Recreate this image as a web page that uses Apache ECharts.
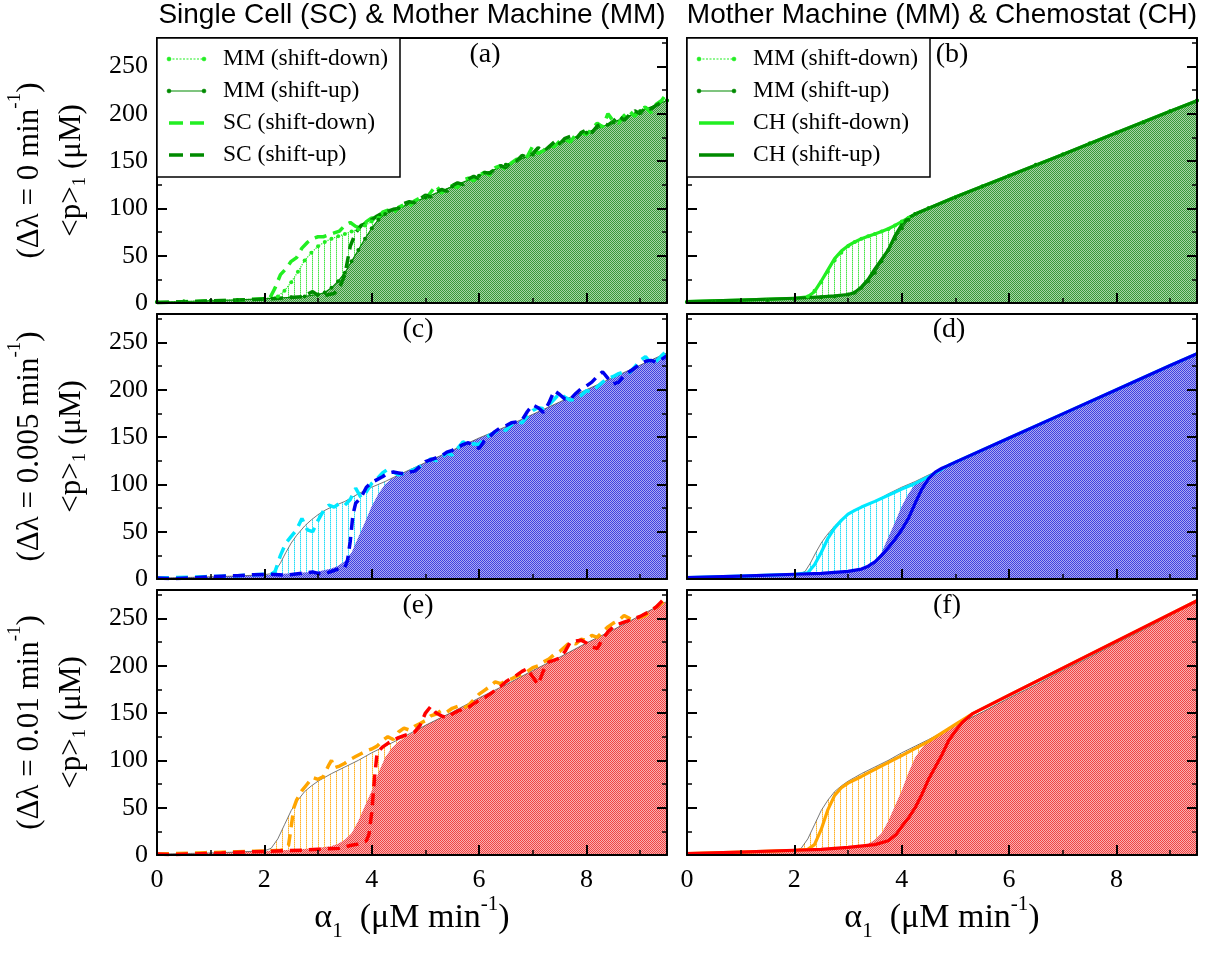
<!DOCTYPE html>
<html><head><meta charset="utf-8">
<script src="https://cdn.jsdelivr.net/npm/echarts@6/dist/echarts.min.js"></script>
<style>html,body{margin:0;padding:0;background:#fff}#c{width:1210px;height:953px}</style>
</head><body><div id="c"></div>
<script>
// ---------------- DATA ----------------
const xTicks = [0, 2, 4, 6, 8];
const yTicks = [0, 50, 100, 150, 200, 250];
const rowLabels = ['0', '0.005', '0.01'];
const panelLetters = ['(a)', '(b)', '(c)', '(d)', '(e)', '(f)'];
const columnTitles = ['Single Cell (SC) & Mother Machine (MM)', 'Mother Machine (MM) & Chemostat (CH)'];
const legendLeft = ['MM (shift-down)', 'MM (shift-up)', 'SC (shift-down)', 'SC (shift-up)'];
const legendRight = ['MM (shift-down)', 'MM (shift-up)', 'CH (shift-down)', 'CH (shift-up)'];

// Row 1 (Δλ = 0)
const mmDown1 = [[0,1],[0.5,1.6],[1,2.4],[1.5,3.3],[2,4.6],[2.25,7],[2.375,13],[2.5,22],[2.625,33],[2.75,45],[2.875,53],[3,60],[3.125,64.5],[3.25,68],[3.375,70.5],[3.5,73],[3.625,75.5],[3.75,78],[3.875,82],[4,86],[4.125,90],[4.25,94],[4.5,100],[5,111.5],[5.5,123],[6,134.5],[6.5,146],[7,157],[7.5,168.5],[8,180],[8.5,191],[9,202.5],[9.5,214]];
const mmUp1 = [[0,1],[0.5,1.6],[1,2.4],[1.5,3.3],[2,4.5],[2.5,6],[2.75,7],[3,9],[3.125,11],[3.25,16],[3.375,23],[3.5,32],[3.625,44],[3.75,56],[3.875,68],[4,79],[4.125,88],[4.25,94],[4.5,100],[5,111.5],[5.5,123],[6,134.5],[6.5,146],[7,157],[7.5,168.5],[8,180],[8.5,191],[9,202.5],[9.5,214]];
const scDown1 = [[0,0.5],[0.3,1],[0.6,1.5],[0.9,2],[1.2,2.5],[1.5,3],[1.8,4],[2.0,4.5],[2.1,5],[2.2,16],[2.3,30],[2.4,36],[2.5,44],[2.6,48],[2.7,58],[2.8,64],[2.9,68],[3.0,70],[3.1,70],[3.2,72],[3.3,74],[3.4,76],[3.5,82],[3.6,85],[3.7,81],[3.8,79],[3.9,86],[4.0,90],[4.1,88],[4.2,96],[4.3,98],[4.4,95],[4.5,101],[4.6,104],[4.7,102],[4.8,108],[4.9,111],[5.0,110],[5.1,117],[5.2,124],[5.3,116],[5.4,121],[5.5,124],[5.6,122],[5.7,130],[5.8,132],[5.9,129],[6.0,135],[6.1,138],[6.2,135],[6.3,143],[6.4,145],[6.5,141],[6.6,148],[6.7,152],[6.8,151],[6.9,155],[7.0,166],[7.1,158],[7.2,161],[7.3,167],[7.4,165],[7.5,171],[7.6,173],[7.7,170],[7.8,178],[7.9,180],[8.0,178],[8.1,184],[8.2,190],[8.3,186],[8.4,200],[8.5,192],[8.6,190],[8.7,198],[8.8,203],[8.9,197],[9.0,205],[9.1,207],[9.2,201],[9.3,210],[9.4,214],[9.5,222]];
const scUp1 = [[0,0.5],[0.3,1],[0.6,1.4],[0.9,2],[1.2,2.6],[1.5,3.2],[1.8,3.8],[2.1,4.5],[2.4,5.5],[2.7,6.5],[2.9,12],[3.0,8],[3.1,7],[3.2,9],[3.3,10],[3.4,16],[3.5,30],[3.55,45],[3.6,60],[3.7,74],[3.8,82],[3.9,84],[4.0,88],[4.1,92],[4.2,95],[4.3,97],[4.4,99],[4.5,100],[4.6,105],[4.7,107],[4.8,106],[4.9,110],[5.0,114],[5.1,112],[5.2,117],[5.3,120],[5.4,118],[5.5,124],[5.6,127],[5.7,125],[5.8,131],[5.9,134],[6.0,131],[6.1,138],[6.2,137],[6.3,142],[6.4,145],[6.5,143],[6.6,149],[6.7,150],[6.8,156],[6.9,154],[7.0,158],[7.1,164],[7.2,160],[7.3,165],[7.4,170],[7.5,168],[7.6,174],[7.7,176],[7.8,173],[7.9,180],[8.0,183],[8.1,180],[8.2,187],[8.3,190],[8.4,188],[8.5,192],[8.6,198],[8.7,193],[8.8,199],[8.9,203],[9.0,200],[9.1,207],[9.2,205],[9.3,209],[9.4,212],[9.5,214]];
const chDown1 = [[0,1.5],[1,3],[2,5],[2.25,6.5],[2.375,12],[2.5,23],[2.625,35],[2.75,47],[2.875,55],[3,60.5],[3.125,64.5],[3.25,68],[3.375,70.5],[3.5,73],[3.625,75.5],[3.75,78.5],[3.875,82],[4,86],[4.125,90],[4.25,94],[5,112],[6,134.5],[7,157],[8,180],[9,202.5],[9.5,213.8]];
const chUp1 = [[0,1.5],[1,3],[2,5],[2.5,6.5],[2.75,7.5],[3,9],[3.125,11],[3.25,17],[3.375,25],[3.5,36],[3.625,46],[3.75,56],[3.875,71],[4,83],[4.125,90],[4.25,94],[5,112],[6,134.5],[7,157],[8,180],[9,202.5],[9.5,213.8]];

// Row 2 (Δλ = 0.005)
const mmDown2 = [[0,1],[0.5,1.5],[1,2.3],[1.5,3.2],[2,4.5],[2.1,5.5],[2.2,8],[2.3,17],[2.4,28],[2.5,38],[2.6,46],[2.75,56],[2.875,62.5],[3,68],[3.125,72.5],[3.25,76],[3.5,82],[3.75,90],[4,97],[4.25,103],[4.5,110],[5,123],[5.5,136],[6,149],[6.5,161],[7,174],[7.5,187],[8,200],[8.5,213],[9,226],[9.5,239]];
const mmUp2 = [[0,1],[1,2.3],[2,4.3],[2.5,6],[3,8],[3.25,11],[3.375,14],[3.5,19],[3.625,28],[3.75,44],[3.875,60],[4,77],[4.125,90],[4.25,100],[4.375,106],[4.5,110],[5,123],[5.5,136],[6,149],[6.5,161],[7,174],[7.5,187],[8,200],[8.5,213],[9,226],[9.5,239]];
const scDown2 = [[0,1],[0.3,1.5],[0.6,2],[0.9,2.5],[1.2,3],[1.5,3.5],[1.8,4.5],[2.0,5],[2.1,4],[2.2,8],[2.3,25],[2.4,38],[2.5,45],[2.6,52],[2.7,64],[2.8,52],[2.9,50],[3.0,62],[3.1,72],[3.2,78],[3.3,76],[3.4,80],[3.5,78],[3.6,84],[3.7,96],[3.8,86],[3.9,92],[4.0,101],[4.1,106],[4.2,112],[4.3,116],[4.4,113],[4.5,110],[4.6,112],[4.7,114],[4.8,116],[4.9,119],[5.0,122],[5.1,127],[5.2,125],[5.3,128],[5.4,133],[5.5,131],[5.6,138],[5.7,145],[5.8,141],[5.9,143],[6.0,142],[6.1,149],[6.2,152],[6.3,155],[6.4,159],[6.5,157],[6.6,163],[6.7,166],[6.8,165],[6.9,172],[7.0,178],[7.1,181],[7.2,180],[7.3,184],[7.4,190],[7.5,196],[7.6,192],[7.7,189],[7.8,190],[7.9,194],[8.0,199],[8.1,198],[8.2,203],[8.3,208],[8.4,212],[8.5,214],[8.6,217],[8.7,219],[8.8,218],[8.9,224],[9.0,231],[9.1,235],[9.2,228],[9.3,230],[9.4,236],[9.5,241]];
const scUp2 = [[0,1],[0.3,0.5],[0.6,1],[0.9,2],[1.2,3],[1.5,3.5],[1.8,4.5],[2.1,5],[2.4,4],[2.7,6],[2.9,7.5],[3.0,6],[3.1,5],[3.2,7],[3.3,9],[3.4,11],[3.5,12],[3.55,20],[3.6,40],[3.65,68],[3.7,80],[3.8,86],[3.9,97],[4.0,102],[4.1,105],[4.2,108],[4.3,112],[4.4,113],[4.5,112],[4.6,111],[4.7,113],[4.8,114],[4.9,119],[5.0,124],[5.1,126],[5.2,128],[5.3,130],[5.4,134],[5.5,136],[5.6,139],[5.7,142],[5.8,144],[5.9,141],[6.0,138],[6.1,146],[6.2,151],[6.3,156],[6.4,160],[6.5,162],[6.6,165],[6.7,166],[6.8,168],[6.9,177],[7.0,184],[7.1,181],[7.2,176],[7.3,186],[7.4,199],[7.5,195],[7.6,190],[7.7,190],[7.8,196],[7.9,201],[8.0,204],[8.1,208],[8.2,214],[8.3,219],[8.4,212],[8.5,206],[8.6,208],[8.7,215],[8.8,219],[8.9,223],[9.0,227],[9.1,230],[9.2,231],[9.3,229],[9.4,232],[9.5,236]];
const chDown2 = [[0,1.5],[1,3],[2,5],[2.25,6.5],[2.375,15],[2.5,28],[2.625,43],[2.75,54],[2.875,62],[3,68.5],[3.125,72.5],[3.25,76],[3.5,82],[3.75,88.5],[4,95],[4.25,101],[4.5,108],[4.75,116],[4.85,119.5],[5,123.5],[6,149],[7,174.5],[8,200],[9,225.5],[9.5,238]];
const chUp2 = [[0,1.5],[1,3],[2,5],[2.5,6],[3,8],[3.25,10.5],[3.375,13.5],[3.5,18],[3.625,25],[3.75,33],[3.875,42],[4,52],[4.125,64],[4.25,80],[4.375,95],[4.5,106],[4.625,113],[4.75,117],[4.85,119.5],[5,123.5],[6,149],[7,174.5],[8,200],[9,225.5],[9.5,238]];

// Row 3 (Δλ = 0.01)
const mmDown3 = [[0,1],[0.5,1.5],[1,2.2],[1.5,3.1],[2,4.5],[2.125,7],[2.25,17],[2.375,32],[2.5,47],[2.625,58],[2.75,67],[2.875,73],[3,78],[3.125,82],[3.25,86],[3.5,93],[3.75,100],[4,108],[4.25,115],[4.5,122],[5,137],[5.5,151],[6,166],[6.5,180],[7,195],[7.5,209],[8,224],[8.5,238],[9,253],[9.5,268]];
const mmUp3 = [[0,1],[1,2.2],[2,4.3],[2.5,5.5],[3,7.5],[3.25,9.5],[3.375,12],[3.5,16],[3.625,23],[3.75,36],[3.875,52],[4,68],[4.125,87],[4.25,103],[4.375,113],[4.5,120],[4.75,129],[5,137],[5.5,151],[6,166],[6.5,180],[7,195],[7.5,209],[8,224],[8.5,238],[9,253],[9.5,268]];
const scDown3 = [[0,1],[0.3,1.5],[0.6,2],[0.9,2.5],[1.2,3],[1.5,3.5],[1.8,4],[2.1,4.5],[2.3,5],[2.4,6],[2.45,10],[2.5,30],[2.55,50],[2.6,58],[2.7,68],[2.8,75],[2.9,82],[3.0,80],[3.1,83],[3.2,95],[3.25,100],[3.3,92],[3.4,94],[3.5,97],[3.6,101],[3.7,104],[3.8,107],[3.9,110],[4.0,112],[4.1,115],[4.2,121],[4.3,125],[4.4,122],[4.5,130],[4.6,134],[4.7,132],[4.8,136],[4.9,139],[5.0,142],[5.1,147],[5.2,149],[5.3,153],[5.4,151],[5.5,155],[5.6,157],[5.7,155],[5.8,158],[5.9,164],[6.0,170],[6.1,174],[6.2,178],[6.3,183],[6.4,181],[6.5,184],[6.6,186],[6.7,189],[6.8,191],[6.9,194],[7.0,198],[7.1,200],[7.2,204],[7.3,207],[7.4,212],[7.5,215],[7.6,220],[7.7,225],[7.8,223],[7.9,228],[8.0,227],[8.1,232],[8.2,230],[8.3,236],[8.4,241],[8.5,245],[8.6,248],[8.7,253],[8.8,250],[8.9,249],[9.0,251],[9.1,253],[9.2,258],[9.3,262],[9.4,266],[9.5,272]];
const scUp3 = [[0,1],[0.3,0.5],[0.6,1],[0.9,1.5],[1.2,2],[1.5,3],[1.8,3.5],[2.1,4],[2.4,4.5],[2.7,5],[3.0,6],[3.2,6.5],[3.4,7],[3.6,10],[3.7,11],[3.8,12],[3.9,15],[3.95,22],[4.0,45],[4.05,80],[4.1,108],[4.2,114],[4.3,118],[4.4,121],[4.5,124],[4.6,126],[4.7,128],[4.8,130],[4.9,137],[5.0,150],[5.1,157],[5.2,150],[5.3,147],[5.4,145],[5.5,149],[5.6,152],[5.7,154],[5.8,156],[5.9,160],[6.0,163],[6.1,166],[6.2,170],[6.3,174],[6.4,178],[6.5,183],[6.6,187],[6.7,190],[6.8,194],[6.9,197],[7.0,188],[7.1,180],[7.2,195],[7.3,204],[7.4,206],[7.5,208],[7.6,215],[7.7,225],[7.8,226],[7.9,227],[8.0,224],[8.1,220],[8.2,218],[8.3,228],[8.4,236],[8.5,241],[8.6,244],[8.7,246],[8.8,248],[8.9,250],[9.0,252],[9.1,255],[9.2,258],[9.3,262],[9.4,268],[9.5,273]];
const chDown3 = [[0,1.5],[1,3],[2,5],[2.25,6],[2.375,11],[2.5,27],[2.625,48],[2.75,63],[2.875,71],[3,76],[3.125,79.5],[3.25,83],[3.5,90.5],[4,105],[4.5,120],[5,138],[5.33,149.7],[6,169],[7,197.5],[8,226],[9,254.5],[9.5,268.7]];
const chUp3 = [[0,1.5],[1,3],[2,5],[2.5,6],[3,8],[3.5,11],[3.75,15],[3.9,22],[4,30],[4.125,39],[4.25,50],[4.375,64],[4.5,80],[4.625,93],[4.75,106],[4.875,121],[5,131],[5.125,140],[5.25,146],[5.33,149.7],[6,169],[7,197.5],[8,226],[9,254.5],[9.5,268.7]];

// ---------------- STYLE ----------------
const SERIF = '"Liberation Serif", "Times New Roman", serif';
const SANS = '"Liberation Sans", Arial, sans-serif';
const rows = [
  { mmDown: mmDown1, mmUp: mmUp1, scDown: scDown1, scUp: scUp1, chDown: chDown1, chUp: chUp1,
    light: '#22ee22', dark: '#008a00', dense: ['#3a983a', '#a6d6a6'], hatch: 'rgba(40,225,40,0.85)' },
  { mmDown: mmDown2, mmUp: mmUp2, scDown: scDown2, scUp: scUp2, chDown: chDown2, chUp: chUp2,
    light: '#00e8ff', dark: '#0000ee', dense: ['#4040e0', '#aaaaf2'], hatch: 'rgba(0,215,245,0.85)' },
  { mmDown: mmDown3, mmUp: mmUp3, scDown: scDown3, scUp: scUp3, chDown: chDown3, chUp: chUp3,
    light: '#ffa500', dark: '#ff0000', dense: ['#f04444', '#f9b0b0'], hatch: 'rgba(255,165,0,0.85)' }
];

function densePattern(a, b) {
  const cv = document.createElement('canvas'); cv.width = 2; cv.height = 2;
  const g = cv.getContext('2d');
  g.fillStyle = b; g.fillRect(0, 0, 2, 2);
  g.fillStyle = a; g.fillRect(0, 0, 1, 1); g.fillRect(1, 1, 1, 1);
  return cv;
}
function hatchPattern(col) {
  const cv = document.createElement('canvas'); cv.width = 6; cv.height = 2;
  const g = cv.getContext('2d');
  g.fillStyle = col; g.fillRect(0, 0, 1, 1);
  g.globalAlpha = 0.55; g.fillRect(0, 1, 1, 1);
  return cv;
}

// y-axis title rich styles (two lines: t1 outer, t2 inner)
const S_Y = 31, S_YS = 19;
const richY = {
  t1: { fontFamily: SERIF, fontSize: S_Y, color: '#000', lineHeight: 48 },
  t2: { fontFamily: SERIF, fontSize: S_Y, color: '#000', lineHeight: 36 },
  sup: { fontFamily: SERIF, fontSize: S_YS, color: '#000', verticalAlign: 'top', lineHeight: S_YS + 2 },
  sub: { fontFamily: SERIF, fontSize: S_YS, color: '#000', verticalAlign: 'bottom', lineHeight: S_YS + 2 }
};
const S_X = 34, S_XS = 21;
const richX = {
  t: { fontFamily: SERIF, fontSize: S_X, color: '#000', lineHeight: 48 },
  sup: { fontFamily: SERIF, fontSize: S_XS, color: '#000', verticalAlign: 'top', lineHeight: S_XS + 2 },
  sub: { fontFamily: SERIF, fontSize: S_XS, color: '#000', verticalAlign: 'bottom', lineHeight: S_XS + 2 }
};

const gridLefts = [157, 687];
const gridTops = [38, 314, 590];
const grids = [], xAxes = [], yAxes = [], series = [];

for (let i = 0; i < 6; i++) {
  const r = Math.floor(i / 2), c = i % 2;
  const row = rows[r];
  grids.push({ left: gridLefts[c], top: gridTops[r], width: 510, height: 265, show: false, containLabel: false, outerBoundsMode: 'none' });

  const xMaj = xAxes.length;
  xAxes.push({
    gridIndex: i, type: 'value', min: 0, max: 9.5, interval: 2, position: 'bottom', z: 5,
    axisLine: { show: true, onZero: false, lineStyle: { color: '#000', width: 2 } },
    axisTick: { show: true, inside: true, length: 10, lineStyle: { color: '#000', width: 2 } },
    axisLabel: { show: r === 2, showMaxLabel: false, fontFamily: SERIF, fontSize: 26, color: '#000', margin: 12,
      formatter: v => (xTicks.indexOf(v) >= 0 ? String(v) : '') },
    splitLine: { show: false },
    name: r === 2 ? '{t|α}{sub|1}{t|  (μM min}{sup|-1}{t|)}' : '',
    nameLocation: 'middle', nameGap: 38,
    nameTextStyle: { rich: richX }
  });
  xAxes.push({
    gridIndex: i, type: 'value', min: 0, max: 9.5, interval: 1, position: 'bottom', z: 5,
    axisLine: { show: false, onZero: false }, axisLabel: { show: false }, splitLine: { show: false },
    axisTick: { show: true, inside: true, length: 5, lineStyle: { color: '#000', width: 1.5 } }
  });
  xAxes.push({
    gridIndex: i, type: 'value', min: 0, max: 9.5, position: 'top', z: 5,
    axisLine: { show: true, onZero: false, lineStyle: { color: '#000', width: 2 } },
    axisTick: { show: false }, axisLabel: { show: false }, splitLine: { show: false }
  });

  const yMaj = yAxes.length;
  yAxes.push({
    gridIndex: i, type: 'value', min: 0, max: 280, interval: 50, position: 'left', z: 5,
    axisLine: { show: true, onZero: false, lineStyle: { color: '#000', width: 2 } },
    axisTick: { show: true, inside: true, length: 10, lineStyle: { color: '#000', width: 2 } },
    axisLabel: { show: c === 0, showMaxLabel: false, fontFamily: SERIF, fontSize: 26, color: '#000', margin: 9,
      formatter: v => (yTicks.indexOf(v) >= 0 ? String(v) : '') },
    splitLine: { show: false },
    name: c === 0 ? '{t1|(Δλ = ' + rowLabels[r] + ' min}{sup|-1}{t1|)}\n{t2|<p>}{sub|1}{t2| (μM)}' : '',
    nameLocation: 'middle', nameRotate: 90, nameGap: 67,
    nameTextStyle: { rich: richY, align: 'center' }
  });
  yAxes.push({
    gridIndex: i, type: 'value', min: 0, max: 280, interval: 25, position: 'left', z: 5,
    axisLine: { show: false, onZero: false }, axisLabel: { show: false }, splitLine: { show: false },
    axisTick: { show: true, inside: true, length: 5, lineStyle: { color: '#000', width: 1.5 } }
  });
  yAxes.push({
    gridIndex: i, type: 'value', min: 0, max: 280, interval: 50, position: 'right', z: 5,
    axisLine: { show: true, onZero: false, lineStyle: { color: '#000', width: 2 } },
    axisTick: { show: true, inside: true, length: 10, lineStyle: { color: '#000', width: 2 } },
    axisLabel: { show: false }, splitLine: { show: false }
  });
  yAxes.push({
    gridIndex: i, type: 'value', min: 0, max: 280, interval: 25, position: 'right', z: 5,
    axisLine: { show: false, onZero: false }, axisLabel: { show: false }, splitLine: { show: false },
    axisTick: { show: true, inside: true, length: 5, lineStyle: { color: '#000', width: 1.5 } }
  });

  const base = { type: 'line', xAxisIndex: xMaj, yAxisIndex: yMaj, silent: true, animation: false, smooth: false };
  series.push(Object.assign({}, base, {
    name: 'hatch-' + i, data: row.mmDown, showSymbol: false, symbol: 'none',
    lineStyle: { width: 0, opacity: 0 }, areaStyle: { color: { image: hatchPattern(row.hatch), repeat: 'repeat' }, opacity: 1 }
  }));
  series.push(Object.assign({}, base, {
    name: 'dense-' + i, data: row.mmUp, showSymbol: false, symbol: 'none',
    lineStyle: { width: 0, opacity: 0 }, areaStyle: { color: { image: densePattern(row.dense[0], row.dense[1]), repeat: 'repeat' }, opacity: 1 }
  }));
  if (r === 0) {
    series.push(Object.assign({}, base, {
      name: 'MM (shift-down) ' + i, data: row.mmDown,
      symbol: 'circle', symbolSize: 4, showSymbol: true,
      itemStyle: { color: row.light }, lineStyle: { color: row.light, width: 1.2, type: 'dotted' }
    }));
    series.push(Object.assign({}, base, {
      name: 'MM (shift-up) ' + i, data: row.mmUp,
      symbol: 'circle', symbolSize: 4, showSymbol: true,
      itemStyle: { color: row.dark }, lineStyle: { color: row.dark, width: 1.2 }
    }));
  } else {
    series.push(Object.assign({}, base, {
      name: 'mm-down-' + i, data: row.mmDown, symbol: 'none', showSymbol: false,
      lineStyle: { color: '#555', width: 0.8 }
    }));
  }
  if (c === 0) {
    series.push(Object.assign({}, base, {
      name: 'sc-down-' + i, data: row.scDown, symbol: 'none', showSymbol: false,
      lineStyle: { color: row.light, width: 3.5, type: [12, 7] }
    }));
    series.push(Object.assign({}, base, {
      name: 'sc-up-' + i, data: row.scUp, symbol: 'none', showSymbol: false,
      lineStyle: { color: row.dark, width: 3.5, type: [12, 7] }
    }));
  } else {
    series.push(Object.assign({}, base, {
      name: 'ch-down-' + i, data: row.chDown, symbol: 'none', showSymbol: false,
      lineStyle: { color: row.light, width: 3.2, join: 'round' }
    }));
    series.push(Object.assign({}, base, {
      name: 'ch-up-' + i, data: row.chUp, symbol: 'none', showSymbol: false,
      lineStyle: { color: row.dark, width: 3.2, join: 'round' }
    }));
  }
}

// ---------- graphic: headers, panel letters, legends ----------
const graphics = [];
columnTitles.forEach((t, k) => {
  graphics.push({ type: 'text', x: [412, 942][k], y: 15, z: 30, silent: true,
    style: { text: t, fontFamily: SANS, fontSize: 28, fill: '#000', align: 'center', verticalAlign: 'middle', textAlign: 'center', textVerticalAlign: 'middle' } });
});
const letterPos = [[485, 55], [952, 55], [418, 330], [949, 330], [418, 606], [947, 606]];
panelLetters.forEach((t, k) => {
  graphics.push({ type: 'text', x: letterPos[k][0], y: letterPos[k][1], z: 30, silent: true,
    style: { text: t, fontFamily: SERIF, fontSize: 28, fill: '#000', align: 'center', verticalAlign: 'middle', textAlign: 'center', textVerticalAlign: 'middle' } });
});

function addLegend(x0, names, kinds) {
  const c = rows[0];
  graphics.push({ type: 'rect', z: 40, silent: true, shape: { x: x0, y: 38, width: 243, height: 139 },
    style: { fill: '#fff', stroke: '#000', lineWidth: 1.5 } });
  names.forEach((n, k) => {
    const cy = 59 + k * 32;
    const x1 = x0 + 12, x2 = x0 + 47;
    const kind = kinds[k];
    const col = (k % 2 === 0) ? c.light : c.dark;
    let style;
    if (kind === 'mm') style = { stroke: col, lineWidth: 1.2, lineDash: k === 0 ? [2, 1.5] : null };
    else if (kind === 'sc') style = { stroke: col, lineWidth: 3.5, lineDash: [14, 7] };
    else style = { stroke: col, lineWidth: 3.5 };
    graphics.push({ type: 'line', z: 41, silent: true, shape: { x1: x1, y1: cy, x2: x2, y2: cy }, style: style });
    if (kind === 'mm') {
      [x1, x2].forEach(px => graphics.push({ type: 'circle', z: 42, silent: true, shape: { cx: px, cy: cy, r: 2 },
        style: { fill: col, stroke: col, lineWidth: 0.5 } }));
    }
    graphics.push({ type: 'text', z: 42, silent: true, x: x0 + 66, y: cy,
      style: { text: n, fontFamily: SERIF, fontSize: 23.5, fill: '#000', align: 'left', verticalAlign: 'middle', textAlign: 'left', textVerticalAlign: 'middle' } });
  });
}
addLegend(157, legendLeft, ['mm', 'mm', 'sc', 'sc']);
addLegend(687, legendRight, ['mm', 'mm', 'ch', 'ch']);

const option = {
  animation: false,
  backgroundColor: '#fff',
  grid: grids,
  xAxis: xAxes,
  yAxis: yAxes,
  graphic: graphics,
  series: series
};

const chart = echarts.init(document.getElementById('c'), null, { renderer: 'canvas', width: 1210, height: 953 });
chart.setOption(option);
</script></body></html>
